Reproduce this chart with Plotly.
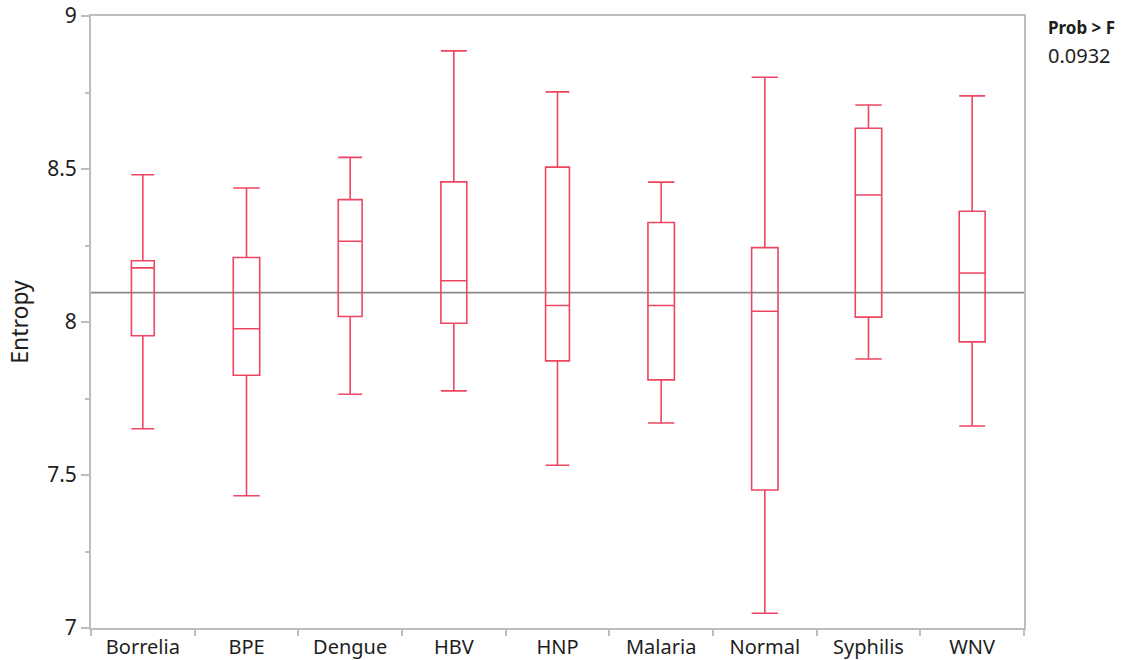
import plotly.graph_objects as go

# Entropy summary per group (box-and-whisker statistics)
groups = ["Borrelia", "BPE", "Dengue", "HBV", "HNP", "Malaria", "Normal", "Syphilis", "WNV"]
whisker_low = [7.651, 7.432, 7.764, 7.775, 7.532, 7.670, 7.048, 7.879, 7.660]
q1 = [7.955, 7.826, 8.018, 7.996, 7.873, 7.811, 7.451, 8.016, 7.935]
median = [8.177, 7.978, 8.264, 8.135, 8.054, 8.054, 8.035, 8.415, 8.160]
q3 = [8.200, 8.211, 8.400, 8.458, 8.506, 8.325, 8.243, 8.633, 8.362]
whisker_high = [8.481, 8.438, 8.538, 8.886, 8.752, 8.457, 8.800, 8.709, 8.739]
box_width = [0.22, 0.255, 0.23, 0.25, 0.23, 0.255, 0.255, 0.255, 0.25]
grand_mean = 8.096
prob_f = "0.0932"

RED = "#EE4662"
GREY_AXIS = "#BEBEBE"
FONT = "Noto Sans"
TEXT = "#1E1E1E"

fig = go.Figure()
for i, g in enumerate(groups):
    fig.add_trace(go.Box(
        x=[g],
        q1=[q1[i]], median=[median[i]], q3=[q3[i]],
        lowerfence=[whisker_low[i]], upperfence=[whisker_high[i]],
        width=box_width[i],
        whiskerwidth=1,
        boxpoints=False,
        fillcolor="rgba(255,255,255,0)",
        line=dict(color=RED, width=1.6),
        showlegend=False,
        hoverinfo="skip",
    ))

# Overall mean reference line
fig.add_shape(type="line", xref="paper", yref="y", x0=0, x1=1,
              y0=grand_mean, y1=grand_mean,
              line=dict(color="#8A8A8A", width=1.6), layer="below")

fig.add_annotation(xref="paper", yref="paper", x=1.024, y=1.003,
                   xanchor="left", yanchor="top", showarrow=False, align="left",
                   text="<b>Prob > F</b>", font=dict(family=FONT, size=17, color=TEXT))
fig.add_annotation(xref="paper", yref="paper", x=1.024, y=0.960,
                   xanchor="left", yanchor="top", showarrow=False, align="left",
                   text=prob_f, font=dict(family=FONT, size=20, color=TEXT))

fig.update_layout(
    width=1132, height=660,
    margin=dict(l=91, r=108, t=16, b=32, autoexpand=False),
    paper_bgcolor="white", plot_bgcolor="white",
    boxmode="overlay",
    font=dict(family=FONT, size=20, color=TEXT),
)
fig.update_xaxes(
    type="category", categoryorder="array", categoryarray=groups,
    range=[-0.5, len(groups) - 0.5], automargin=False,
    showline=True, linecolor=GREY_AXIS, linewidth=2, mirror=True,
    showgrid=False, zeroline=False,
    tickson="boundaries", ticks="outside", ticklen=6, tickcolor=GREY_AXIS, tickwidth=1.5,
    tickfont=dict(family=FONT, size=20, color=TEXT),
)
fig.update_yaxes(
    range=[7, 9], tickvals=[7, 7.5, 8, 8.5, 9], ticktext=["7", "7.5", "8", "8.5", "9"],
    automargin=False,
    showline=True, linecolor=GREY_AXIS, linewidth=2, mirror=True,
    showgrid=False, zeroline=False,
    ticks="outside", ticklen=8, tickcolor=GREY_AXIS, tickwidth=1.5,
    minor=dict(tickvals=[7.25, 7.75, 8.25, 8.75], ticks="outside", ticklen=4,
               tickcolor=GREY_AXIS, tickwidth=1.5, showgrid=False),
    tickfont=dict(family=FONT, size=21, color=TEXT),
    title=dict(text="Entropy", font=dict(family=FONT, size=23, color=TEXT), standoff=12),
)

fig.write_html("out.html")
